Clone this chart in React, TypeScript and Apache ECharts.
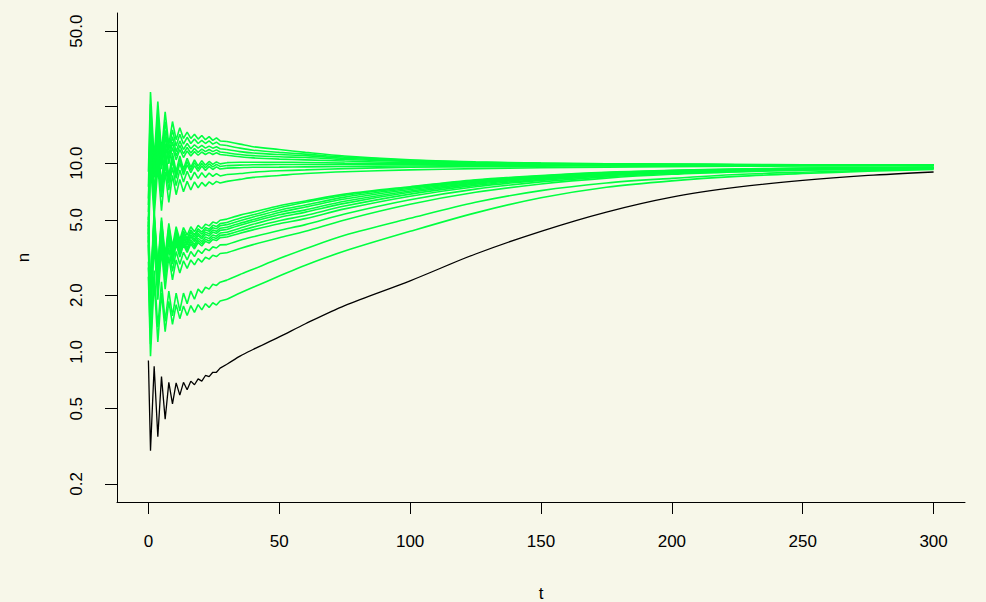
import React, { useEffect, useRef } from "react";
import * as echarts from "echarts";

// time points (t)
const T = [
  0, 0.8, 2.2, 3.6, 5.0, 6.4, 7.8, 9.2, 10.6, 12.0, 13.4, 14.8, 16.2, 17.6, 19.0, 20.4, 21.8, 23.2, 24.6, 26.0, 27.4,
  30, 35, 40, 50, 60, 75, 100, 125, 150, 175, 200, 225, 250, 275, 300,
];
// index where the damped oscillation has died out (t = 30)
const SPLIT = 21;

// black trajectory
const blackN = [
  0.9, 0.3, 0.84, 0.355, 0.74, 0.44, 0.69, 0.53, 0.685, 0.59, 0.69, 0.63, 0.7, 0.67, 0.72, 0.7, 0.75, 0.74, 0.78, 0.78, 0.82,
  0.86, 0.95, 1.03, 1.2, 1.41, 1.76, 2.38, 3.3, 4.35, 5.5, 6.6, 7.45, 8.1, 8.6, 8.97,
];

// green trajectories approaching from above / near equilibrium
const u1 = [9.0, 23.8, 10.4, 21.2, 11.4, 18.7, 12.5, 16.6, 13.3, 15.4, 13.5, 14.6, 13.5, 14.2, 13.4, 14.0, 13.3, 13.8, 13.2, 13.6, 13.1,
  13.0, 12.6, 12.2, 11.8, 11.4, 10.9, 10.4, 10.15, 10.0, 9.92, 9.86, 9.82, 9.8, 9.78, 9.77];
const u2 = [7.5, 20.5, 9.8, 18.6, 10.8, 16.6, 11.7, 15.0, 12.3, 14.2, 12.6, 13.7, 12.7, 13.4, 12.7, 13.2, 12.7, 13.1, 12.6, 12.9, 12.5,
  12.4, 12.0, 11.7, 11.4, 11.15, 10.75, 10.35, 10.1, 9.97, 9.9, 9.85, 9.81, 9.79, 9.77, 9.76];
const u3 = [6.5, 18.0, 9.2, 16.5, 10.2, 14.9, 11.0, 13.8, 11.5, 13.1, 11.8, 12.7, 11.9, 12.5, 12.0, 12.4, 12.0, 12.3, 12.0, 12.2, 11.9,
  11.8, 11.5, 11.3, 11.1, 10.95, 10.6, 10.25, 10.05, 9.95, 9.88, 9.84, 9.8, 9.78, 9.76, 9.75];
const u4 = [6.0, 16.2, 8.8, 15.0, 9.7, 13.8, 10.4, 12.9, 10.9, 12.4, 11.2, 12.1, 11.3, 11.95, 11.4, 11.85, 11.5, 11.8, 11.5, 11.75, 11.45,
  11.35, 11.1, 10.95, 10.8, 10.7, 10.45, 10.2, 10.02, 9.93, 9.87, 9.83, 9.8, 9.78, 9.76, 9.75];
const u5 = [5.5, 14.5, 8.4, 13.5, 9.3, 12.7, 9.9, 12.1, 10.4, 11.8, 10.7, 11.6, 10.9, 11.5, 11.0, 11.45, 11.1, 11.4, 11.1, 11.35, 11.1,
  11.0, 10.8, 10.65, 10.5, 10.4, 10.25, 10.05, 9.95, 9.9, 9.85, 9.82, 9.8, 9.78, 9.76, 9.75];
const u6 = [5.0, 14.0, 7.0, 13.0, 7.8, 12.0, 8.5, 11.3, 9.0, 10.9, 9.3, 10.6, 9.5, 10.4, 9.65, 10.3, 9.75, 10.2, 9.85, 10.15, 9.9,
  10.05, 10.1, 10.1, 10.1, 10.08, 10.0, 9.95, 9.9, 9.86, 9.83, 9.8, 9.79, 9.78, 9.77, 9.76];
const u7 = [4.6, 13.0, 6.6, 12.2, 7.4, 11.4, 8.1, 10.8, 8.6, 10.5, 8.95, 10.2, 9.2, 10.05, 9.35, 9.95, 9.45, 9.9, 9.55, 9.85, 9.6,
  9.7, 9.75, 9.8, 9.82, 9.82, 9.82, 9.81, 9.8, 9.79, 9.78, 9.77, 9.76, 9.76, 9.75, 9.75];
const u8 = [4.2, 12.0, 6.3, 11.5, 7.1, 10.8, 7.8, 10.3, 8.3, 10.0, 8.65, 9.8, 8.9, 9.7, 9.05, 9.65, 9.15, 9.6, 9.25, 9.55, 9.3,
  9.4, 9.45, 9.5, 9.52, 9.55, 9.6, 9.65, 9.68, 9.7, 9.71, 9.72, 9.72, 9.73, 9.73, 9.73];
const u9 = [3.8, 11.0, 5.9, 10.5, 6.6, 9.9, 7.2, 9.5, 7.6, 9.2, 7.95, 9.05, 8.15, 8.95, 8.3, 8.9, 8.4, 8.85, 8.5, 8.8, 8.55,
  8.7, 8.8, 8.95, 9.1, 9.2, 9.35, 9.5, 9.58, 9.63, 9.66, 9.68, 9.7, 9.71, 9.72, 9.72];
const u10 = [3.4, 10.0, 5.2, 9.6, 5.6, 9.0, 6.2, 8.6, 6.8, 8.2, 7.05, 8.0, 7.2, 7.95, 7.4, 7.9, 7.55, 7.95, 7.7, 8.0, 7.85,
  8.0, 8.2, 8.4, 8.6, 8.8, 9.0, 9.2, 9.35, 9.45, 9.52, 9.57, 9.62, 9.65, 9.67, 9.68];

// green trajectories approaching from below
const l1 = [5.2, 2.11, 5.58, 2.83, 5.15, 3.23, 4.8, 3.61, 4.6, 3.93, 4.56, 4.15, 4.6, 4.33, 4.68, 4.49, 4.75, 4.65, 4.87, 4.8, 4.98,
  5.05, 5.3, 5.5, 5.95, 6.3, 6.85, 7.5, 8.15, 8.6, 8.95, 9.15, 9.3, 9.4, 9.45, 9.5];
const l2 = [4.9, 2.03, 5.36, 2.72, 4.94, 3.1, 4.61, 3.47, 4.42, 3.77, 4.38, 3.98, 4.42, 4.16, 4.49, 4.31, 4.56, 4.46, 4.68, 4.61, 4.78,
  4.85, 5.1, 5.32, 5.8, 6.2, 6.75, 7.45, 8.1, 8.55, 8.9, 9.12, 9.28, 9.38, 9.44, 9.49];
const l3 = [4.7, 1.97, 5.22, 2.65, 4.82, 3.02, 4.49, 3.38, 4.3, 3.67, 4.26, 3.88, 4.3, 4.05, 4.38, 4.2, 4.44, 4.35, 4.55, 4.49, 4.66,
  4.72, 4.95, 5.18, 5.63, 6.0, 6.6, 7.35, 8.0, 8.5, 8.85, 9.1, 9.26, 9.36, 9.43, 9.48];
const l4 = [4.5, 1.91, 5.06, 2.57, 4.67, 2.93, 4.35, 3.27, 4.17, 3.56, 4.14, 3.76, 4.17, 3.93, 4.24, 4.07, 4.31, 4.22, 4.42, 4.35, 4.52,
  4.57, 4.8, 5.02, 5.48, 5.85, 6.45, 7.25, 7.92, 8.43, 8.8, 9.06, 9.23, 9.34, 9.42, 9.47];
const l5 = [4.3, 1.87, 4.93, 2.5, 4.55, 2.86, 4.24, 3.19, 4.07, 3.47, 4.03, 3.67, 4.07, 3.83, 4.14, 3.97, 4.2, 4.11, 4.31, 4.24, 4.4,
  4.45, 4.68, 4.9, 5.32, 5.65, 6.28, 7.12, 7.83, 8.36, 8.75, 9.02, 9.2, 9.32, 9.4, 9.46];
const l6 = [4.1, 1.8, 4.77, 2.42, 4.4, 2.76, 4.1, 3.09, 3.93, 3.36, 3.9, 3.55, 3.93, 3.7, 4.0, 3.84, 4.06, 3.98, 4.16, 4.1, 4.26,
  4.3, 4.52, 4.74, 5.15, 5.5, 6.12, 7.0, 7.74, 8.28, 8.7, 8.98, 9.17, 9.3, 9.38, 9.45];
const l7 = [3.9, 1.76, 4.64, 2.35, 4.28, 2.69, 3.99, 3.0, 3.83, 3.27, 3.79, 3.45, 3.83, 3.6, 3.89, 3.74, 3.95, 3.87, 4.05, 3.99, 4.14,
  4.18, 4.38, 4.58, 4.95, 5.28, 5.92, 6.85, 7.62, 8.2, 8.63, 8.93, 9.13, 9.27, 9.36, 9.43];
const l8 = [3.7, 1.71, 4.52, 2.29, 4.17, 2.62, 3.89, 2.92, 3.73, 3.18, 3.69, 3.36, 3.73, 3.51, 3.79, 3.64, 3.85, 3.77, 3.94, 3.89, 4.03,
  4.06, 4.25, 4.43, 4.77, 5.08, 5.72, 6.68, 7.5, 8.1, 8.56, 8.88, 9.1, 9.24, 9.34, 9.42];
const l9 = [3.4, 1.56, 4.13, 2.09, 3.81, 2.39, 3.55, 2.67, 3.4, 2.91, 3.37, 3.07, 3.4, 3.2, 3.46, 3.32, 3.52, 3.44, 3.6, 3.55, 3.69,
  3.7, 3.9, 4.07, 4.4, 4.72, 5.38, 6.4, 7.28, 7.95, 8.45, 8.8, 9.04, 9.2, 9.31, 9.4];
const l10 = [3.0, 1.41, 3.72, 1.89, 3.43, 2.15, 3.2, 2.41, 3.07, 2.62, 3.04, 2.77, 3.07, 2.89, 3.12, 2.99, 3.17, 3.1, 3.25, 3.2, 3.32,
  3.35, 3.53, 3.7, 4.02, 4.35, 5.0, 6.05, 7.0, 7.75, 8.32, 8.72, 8.98, 9.16, 9.28, 9.37];
const l11 = [2.8, 1.1, 2.7, 1.35, 2.35, 1.45, 2.1, 1.55, 2.05, 1.65, 2.05, 1.8, 2.1, 1.9, 2.15, 2.05, 2.2, 2.15, 2.28, 2.25, 2.34,
  2.4, 2.57, 2.74, 3.12, 3.52, 4.15, 5.1, 6.2, 7.15, 7.85, 8.3, 8.7, 8.95, 9.15, 9.3];
const l12 = [2.5, 0.95, 2.4, 1.13, 2.05, 1.28, 1.85, 1.4, 1.78, 1.5, 1.75, 1.56, 1.76, 1.62, 1.78, 1.67, 1.8, 1.72, 1.82, 1.77, 1.86,
  1.9, 2.05, 2.2, 2.52, 2.88, 3.42, 4.35, 5.45, 6.55, 7.45, 8.05, 8.5, 8.8, 9.05, 9.25];

const greenSeries = [u1, u2, u3, u4, u5, u6, u7, u8, u9, u10, l1, l2, l3, l4, l5, l6, l7, l8, l9, l10, l11, l12];

const X_TICKS = [0, 50, 100, 150, 200, 250, 300];
const Y_TICKS = [0.2, 0.5, 1, 2, 5, 10, 20, 50];
const Y_LABELS = [0.2, 0.5, 1, 2, 5, 10, 50];

const BG = "#f7f7e9";
const GREEN = "#00ff40";
const FONT = "Liberation Sans, Arial, sans-serif";

export default function App() {
  const ref = useRef<HTMLDivElement>(null);
  useEffect(() => {
    if (!ref.current) return;
    const chart = echarts.init(ref.current, null, { renderer: "svg" });
    const pairs = (vals: number[]) => T.map((t, i) => [t, vals[i]]);
    // each trajectory: the oscillating start drawn as straight segments,
    // the slow approach afterwards drawn as a smooth curve
    const traj = (vals: number[], color: string, width: number, name: string) => {
      const p = pairs(vals);
      return [
        {
          type: "line",
          name: name + "-a",
          data: p.slice(0, SPLIT + 1),
          showSymbol: false,
          lineStyle: { color, width },
          silent: true,
        },
        {
          type: "line",
          name: name + "-b",
          data: p.slice(SPLIT),
          showSymbol: false,
          smooth: 0.3,
          lineStyle: { color, width },
          silent: true,
        },
      ];
    };
    const series: any[] = [
      ...traj(blackN, "#000000", 1.3, "black"),
      ...greenSeries.flatMap((vals, i) => traj(vals, GREEN, 1.6, "g" + i)),
    ];
    const labelStyle = { fontFamily: FONT, fontSize: 17, color: "#000" };
    chart.setOption({
      animation: false,
      backgroundColor: BG,
      grid: { left: 117, right: 21, top: 13, bottom: 100, containLabel: false, outerBoundsMode: "none" },
      xAxis: {
        type: "value",
        min: -12,
        max: 312,
        name: "t",
        nameLocation: "middle",
        nameGap: 83,
        nameTextStyle: labelStyle,
        axisLine: { show: true, onZero: false, lineStyle: { color: "#000", width: 1 } },
        axisTick: { show: true, length: 12, customValues: X_TICKS, lineStyle: { color: "#000", width: 1 } },
        axisLabel: { ...labelStyle, customValues: X_TICKS, margin: 31, formatter: (v: number) => String(v) },
        splitLine: { show: false },
      },
      yAxis: {
        type: "log",
        logBase: 10,
        min: 0.16036,
        max: 62.35,
        name: "n",
        nameLocation: "middle",
        nameGap: 85,
        nameTextStyle: labelStyle,
        axisLine: { show: true, onZero: false, lineStyle: { color: "#000", width: 1 } },
        axisTick: { show: true, length: 12, customValues: Y_TICKS, lineStyle: { color: "#000", width: 1 } },
        axisLabel: {
          ...labelStyle,
          customValues: Y_LABELS,
          rotate: 90,
          margin: 32,
          formatter: (v: number) => Number(v).toFixed(1),
        },
        splitLine: { show: false },
      },
      series,
    });
    return () => chart.dispose();
  }, []);
  return (
    <div
      ref={ref}
      style={{ position: "fixed", left: 0, top: 0, width: 986, height: 602, background: BG }}
    />
  );
}
